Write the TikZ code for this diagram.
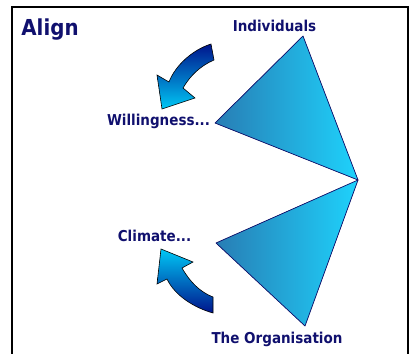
\documentclass[tikz,border=0pt]{standalone}
\usepackage{fontspec}
\setmainfont{DejaVu Sans}[FakeStretch=0.9]
\usetikzlibrary{shadings}
\definecolor{navy}{RGB}{16,16,110}
\definecolor{triL}{RGB}{40,125,180}
\definecolor{triR}{RGB}{30,210,252}
\definecolor{arrDark}{RGB}{0,20,140}
\definecolor{arrLight}{RGB}{0,200,245}
\begin{document}
\begin{tikzpicture}[x=1pt,y=-1pt,
  lbl/.style={text=navy,font=\fontsize{15}{15}\selectfont\bfseries,inner sep=0pt,anchor=base},
  tri/.style={draw=navy,line width=0.7pt,line join=round,left color=triL,right color=triR},
  barrow/.style={draw=black,line width=0.6pt,line join=miter}]
\useasboundingbox (0,0) rectangle (411,353);
% frame
\draw[line width=1.3pt] (12,360) -- (12,7) -- (408,7) -- (408,360);
% triangles
\filldraw[tri] (303,36) -- (215,123) -- (358,180) -- cycle;
\filldraw[tri] (358,180) -- (216,243) -- (305,326) -- cycle;
% arrows
\path[barrow,top color=arrDark,bottom color=arrLight]
  (211,44) .. controls (192,50) and (175,66) .. (169,82) -- (157,75) -- (162,109)
  -- (195,98) -- (183,88) .. controls (190,76) and (200,66) .. (214,60) -- cycle;
\path[barrow,top color=arrLight,bottom color=arrDark]
  (161,249) -- (193,262) -- (182,268) .. controls (190,282) and (200,292) .. (213,297)
  -- (213,313) .. controls (195,308) and (175,296) .. (167,279) -- (157,284) -- cycle;
% labels
\node[lbl,font=\fontsize{22}{22}\selectfont\bfseries] (align) at (50,35) {Align};
\node[lbl] (ind) at (274.5,32) {Individuals};
\node[lbl] (will) at (158.5,125) {Willingness...};
\node[lbl] (clim) at (154.5,241) {Climate...};
\node[lbl] (org) at (277,343) {The Organisation};
\end{tikzpicture}
\end{document}
